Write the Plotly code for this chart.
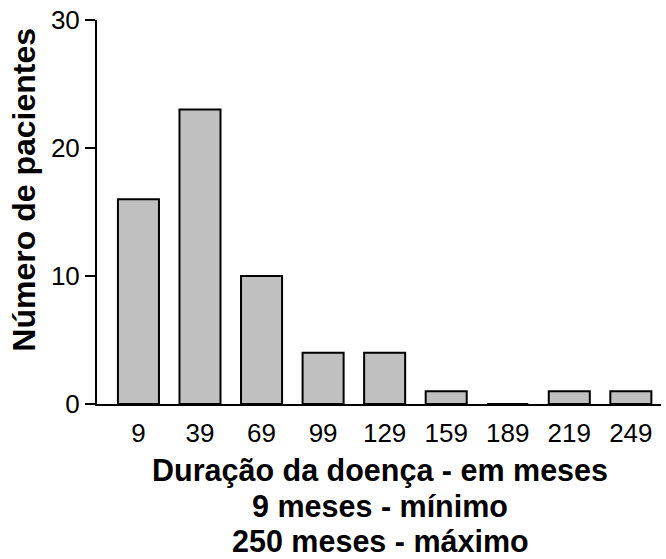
import plotly.graph_objects as go

categories = [9, 39, 69, 99, 129, 159, 189, 219, 249]
patients = [16, 23, 10, 4, 4, 1, 0, 1, 1]
tick_labels = ["9", "39", "69", "99", "129", "159", "189", "219", "249"]
y_ticks = [0, 10, 20, 30]
x_title_lines = ["Duração da doença - em meses", "9 meses - mínimo", "250 meses - máximo"]
y_title = "Número de pacientes"

fig = go.Figure(go.Bar(
    x=categories, y=patients, width=20,
    marker=dict(color="#c0c0c0", line=dict(color="black", width=2)),
))

font = "Liberation Sans, Arial, sans-serif"
fig.update_layout(
    width=666, height=559,
    margin=dict(l=97, r=5, t=20, b=155),
    paper_bgcolor="white", plot_bgcolor="white",
    showlegend=False,
    font=dict(family=font, color="black"),
    xaxis=dict(
        range=[-11.2, 263.7], tickmode="array", tickvals=categories, ticktext=tick_labels,
        showline=True, linecolor="black", linewidth=2, ticks="", showgrid=False, zeroline=False,
        tickfont=dict(size=26), ticklabelstandoff=5,
    ),
    yaxis=dict(
        range=[0, 30], tickmode="array", tickvals=y_ticks,
        showline=True, linecolor="black", linewidth=2, ticks="outside", ticklen=10, tickwidth=2,
        tickcolor="black", showgrid=False, zeroline=False, tickfont=dict(size=26),
    ),
)

# x-axis title lines (paper coordinates)
for line, ypos in zip(x_title_lines, [-0.172, -0.266, -0.357]):
    fig.add_annotation(text=f"<b>{line}</b>", xref="paper", yref="paper", x=0.502, y=ypos,
                       xanchor="center", yanchor="middle", showarrow=False,
                       font=dict(size=30.5, family=font, color="black"))

fig.add_annotation(text=f"<b>{y_title}</b>", xref="paper", yref="paper", x=-0.1285, y=0.557,
                   xanchor="center", yanchor="middle", textangle=-90, showarrow=False,
                   font=dict(size=32, family=font, color="black"))

fig.write_html("out.html", config={"displayModeBar": False},
               post_script="document.body.style.margin='0';")
